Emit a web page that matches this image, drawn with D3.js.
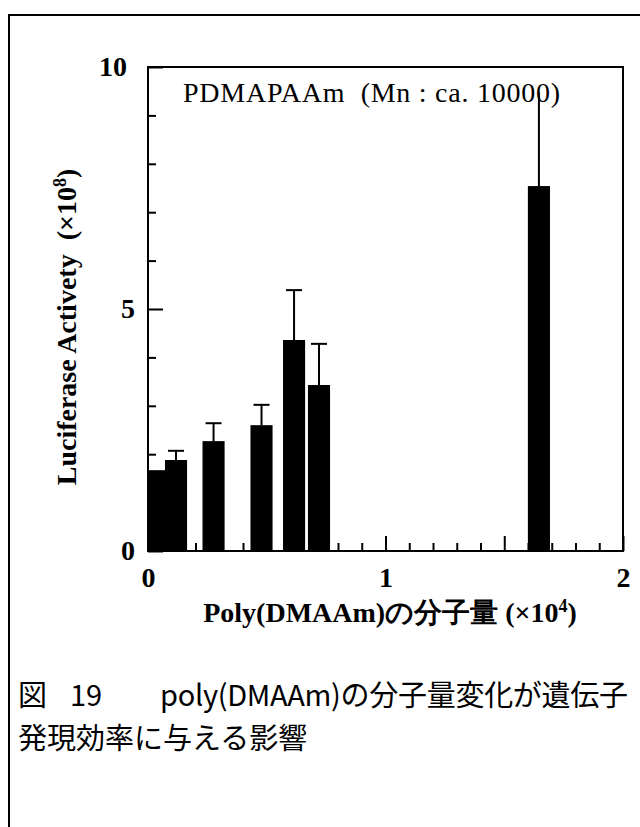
<!DOCTYPE html>
<html>
<head>
<meta charset="utf-8">
<script src="https://cdn.jsdelivr.net/npm/d3@7"></script>
<style>
  body { margin: 0; background: #fff; }
  svg { display: block; }
  text { white-space: pre; }
</style>
</head>
<body>
<svg id="chart" width="640" height="827"></svg>
<script>
// molecular weight of poly(DMAAm), x10^4
const molWeights = [0.03, 0.118, 0.276, 0.478, 0.615, 0.72, 1.646];
// luciferase activity, x10^8
const activity = [1.67, 1.88, 2.27, 2.60, 4.36, 3.43, 7.54];
const errUp = [0, 0.19, 0.37, 0.42, 1.03, 0.85, 1.94];

const xTicks = d3.range(0, 21).map(i => i / 10);
const yTicks = d3.range(0, 11);
const xLabels = ["0", "1", "2"];
const yLabels = ["0", "5", "10"];

const svg = d3.select("#chart");
const serif = "'Liberation Serif', 'DejaVu Serif', serif";
const gothic = "'Noto Sans CJK JP', 'Noto Sans', sans-serif";

// page border (scan frame)
svg.append("path")
  .attr("d", "M9,827V15H640")
  .attr("fill", "none")
  .attr("stroke", "#000")
  .attr("stroke-width", 2);

const plot = { left: 148, right: 623, top: 67, bottom: 551 };
const x = d3.scaleLinear().domain([0, 2]).range([plot.left, plot.right]);
const y = d3.scaleLinear().domain([0, 10]).range([plot.bottom, plot.top]);
const barW = x(0.093) - x(0);

svg.append("clipPath").attr("id", "clip")
  .append("rect")
  .attr("x", plot.left).attr("y", plot.top)
  .attr("width", plot.right - plot.left).attr("height", plot.bottom - plot.top);

const bars = molWeights.map((m, i) => ({ m, v: activity[i], e: errUp[i] }));

// error bars (upper only); the tallest one runs into the title, no cap shown
const eb = svg.append("g").attr("stroke", "#000").attr("stroke-width", 2);
bars.filter(d => d.e > 0).forEach(d => {
  eb.append("line")
    .attr("x1", x(d.m)).attr("x2", x(d.m))
    .attr("y1", y(d.v)).attr("y2", y(d.v + d.e));
  if (d.v + d.e < 9) {
    eb.append("line")
      .attr("x1", x(d.m) - 8).attr("x2", x(d.m) + 8)
      .attr("y1", y(d.v + d.e)).attr("y2", y(d.v + d.e));
  }
});

svg.append("g").attr("clip-path", "url(#clip)")
  .selectAll("rect")
  .data(bars)
  .join("rect")
  .attr("x", d => x(d.m) - barW / 2)
  .attr("y", d => y(d.v))
  .attr("width", barW)
  .attr("height", d => y(0) - y(d.v))
  .attr("fill", "#000");

// axes: ticks point inwards
const xAxis = svg.append("g")
  .attr("transform", `translate(0,${plot.bottom})`)
  .call(d3.axisBottom(x).tickValues(xTicks).tickSize(-8).tickSizeOuter(0).tickPadding(16)
    .tickFormat(d => xLabels.includes(String(d)) ? String(d) : ""));
xAxis.selectAll(".tick line")
  .attr("y2", d => Math.round(d * 10) % 5 === 0 ? -15 : -8)
  .attr("stroke-width", 2);

const yAxis = svg.append("g")
  .attr("transform", `translate(${plot.left},0)`)
  .call(d3.axisLeft(y).tickValues(yTicks).tickSize(-8).tickSizeOuter(0).tickPadding(13)
    .tickFormat(d => yLabels.includes(String(d)) ? String(d) : ""));
yAxis.selectAll(".tick line")
  .attr("x2", d => d % 5 === 0 ? 15 : 8)
  .attr("stroke-width", 2);
yAxis.selectAll(".tick text").attr("dx", d => d === 10 ? -8 : 0);

[xAxis, yAxis].forEach(a => {
  a.select(".domain").remove();
  a.selectAll("text")
    .attr("font-family", serif)
    .attr("font-weight", "bold")
    .attr("font-size", 28)
    .attr("fill", "#000");
});

// frame
svg.append("rect")
  .attr("x", plot.left).attr("y", plot.top)
  .attr("width", plot.right - plot.left).attr("height", plot.bottom - plot.top)
  .attr("fill", "none")
  .attr("stroke", "#000")
  .attr("stroke-width", 2);

// in-plot title
svg.append("text")
  .attr("x", 183).attr("y", 102)
  .attr("font-family", serif)
  .attr("font-size", 28)
  .attr("textLength", 377)
  .text("PDMAPAAm  (Mn : ca. 10000)");

// y axis title
svg.append("text")
  .attr("transform", "translate(76,327) rotate(-90)")
  .attr("text-anchor", "middle")
  .attr("font-family", serif)
  .attr("font-weight", "bold")
  .attr("font-size", 28)
  .html("Luciferase Activety  (×10<tspan dy='-10' font-size='18'>8</tspan><tspan dy='10'>)</tspan>");

// x axis title
svg.append("text")
  .attr("x", 390).attr("y", 622)
  .attr("text-anchor", "middle")
  .attr("font-family", serif)
  .attr("font-weight", "bold")
  .attr("font-size", 28)
  .html("Poly(DMAAm)の分子量 (×10<tspan dy='-10' font-size='18'>4</tspan><tspan dy='10'>)</tspan>");

// caption
const cap = svg.append("g")
  .attr("font-family", gothic)
  .attr("font-size", 29)
  .attr("fill", "#000");
cap.append("text").attr("y", 706)
  .html("<tspan x='18'>図</tspan><tspan x='70'>19</tspan><tspan x='160' textLength='468'>poly(DMAAm)の分子量変化が遺伝子</tspan>");
cap.append("text").attr("x", 18).attr("y", 749)
  .text("発現効率に与える影響");
</script>
</body>
</html>
